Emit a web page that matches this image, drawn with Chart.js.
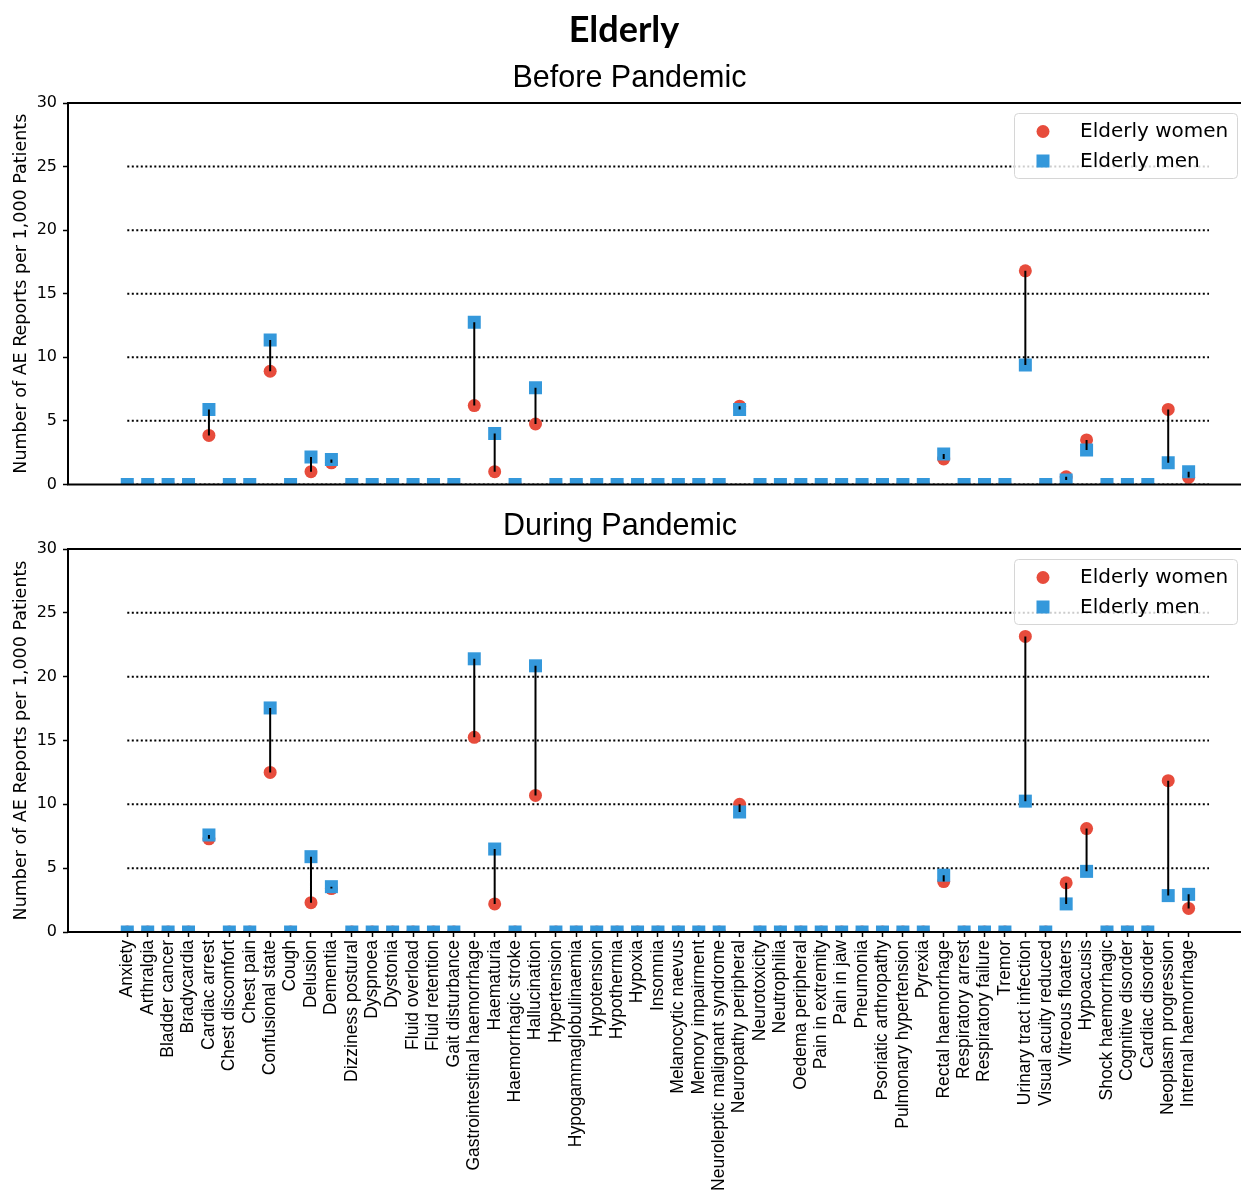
<!DOCTYPE html>
<html>
<head>
<meta charset="utf-8">
<script src="https://cdn.jsdelivr.net/npm/chart.js@4"></script>
<style>
  html, body { margin: 0; padding: 0; background: #ffffff; overflow: hidden; }
  #wrap { position: relative; width: 1241px; height: 1197px; }
  canvas { position: absolute; left: 0; }
  #c1 { top: 0; }
  #c2 { top: 500px; }
</style>
</head>
<body>
<div id="wrap">
  <canvas id="c1" width="1241" height="500"></canvas>
  <canvas id="c2" width="1241" height="697"></canvas>
</div>
<script>
// ---------------- DATA ----------------
const categories = [
  "Anxiety", "Arthralgia", "Bladder cancer", "Bradycardia", "Cardiac arrest",
  "Chest discomfort", "Chest pain", "Confusional state", "Cough", "Delusion",
  "Dementia", "Dizziness postural", "Dyspnoea", "Dystonia", "Fluid overload",
  "Fluid retention", "Gait disturbance", "Gastrointestinal haemorrhage", "Haematuria", "Haemorrhagic stroke",
  "Hallucination", "Hypertension", "Hypogammaglobulinaemia", "Hypotension", "Hypothermia",
  "Hypoxia", "Insomnia", "Melanocytic naevus", "Memory impairment", "Neuroleptic malignant syndrome",
  "Neuropathy peripheral", "Neurotoxicity", "Neutrophilia", "Oedema peripheral", "Pain in extremity",
  "Pain in jaw", "Pneumonia", "Psoriatic arthropathy", "Pulmonary hypertension", "Pyrexia",
  "Rectal haemorrhage", "Respiratory arrest", "Respiratory failure", "Tremor", "Urinary tract infection",
  "Visual acuity reduced", "Vitreous floaters", "Hypoacusis", "Shock haemorrhagic", "Cognitive disorder",
  "Cardiac disorder", "Neoplasm progression", "Internal haemorrhage"
];

const womenBefore = [
  0, 0, 0, 0, 3.85,
  0, 0, 8.9, 0, 1.0,
  1.7, 0, 0, 0, 0,
  0, 0, 6.2, 1.0, 0,
  4.75, 0, 0, 0, 0,
  0, 0, 0, 0, 0,
  6.15, 0, 0, 0, 0,
  0, 0, 0, 0, 0,
  2.0, 0, 0, 0, 16.8,
  0, 0.6, 3.5, 0, 0,
  0, 5.9, 0.55
];
const menBefore = [
  0, 0, 0, 0, 5.9,
  0, 0, 11.35, 0, 2.15,
  1.95, 0, 0, 0, 0,
  0, 0, 12.75, 4.0, 0,
  7.6, 0, 0, 0, 0,
  0, 0, 0, 0, 0,
  5.9, 0, 0, 0, 0,
  0, 0, 0, 0, 0,
  2.4, 0, 0, 0, 9.4,
  0, 0.35, 2.7, 0, 0,
  0, 1.7, 1.0
];
const womenDuring = [
  0, 0, 0, 0, 7.3,
  0, 0, 12.5, 0, 2.3,
  3.4, 0, 0, 0, 0,
  0, 0, 15.25, 2.2, 0,
  10.7, 0, 0, 0, 0,
  0, 0, 0, 0, 0,
  10.0, 0, 0, 0, 0,
  0, 0, 0, 0, 0,
  3.95, 0, 0, 0, 23.15,
  0, 3.85, 8.1, 0, 0,
  0, 11.85, 1.85
];
const menDuring = [
  0, 0, 0, 0, 7.6,
  0, 0, 17.55, 0, 5.9,
  3.55, 0, 0, 0, 0,
  0, 0, 21.4, 6.5, 0,
  20.85, 0, 0, 0, 0,
  0, 0, 0, 0, 0,
  9.4, 0, 0, 0, 0,
  0, 0, 0, 0, 0,
  4.45, 0, 0, 0, 10.25,
  0, 2.2, 4.75, 0, 0,
  0, 2.85, 2.95
];
const yTickValues = [0, 5, 10, 15, 20, 25, 30];
const seriesNames = ["Elderly women", "Elderly men"];
const figureTitle = "Elderly";
const panelTitles = ["Before Pandemic", "During Pandemic"];
const yAxisTitle = "Number of AE Reports per 1,000 Patients";

// ---------------- STYLE ----------------
const RED = "#E74C3C";
const BLUE = "#3498DB";
const X_MIN = -2.905, X_MAX = 54.566;

// ---------------- PLUGINS ----------------
const figPlugin = {
  id: "figExtras",
  afterDraw(chart, args, opts) {
    const ctx = chart.ctx;
    const a = chart.chartArea;
    ctx.save();
    // spines
    ctx.strokeStyle = "#000";
    ctx.lineWidth = 2;
    ctx.beginPath();
    ctx.moveTo(a.left, a.top); ctx.lineTo(a.right, a.top);
    ctx.moveTo(a.left, a.top - 1); ctx.lineTo(a.left, a.bottom + 1);
    ctx.moveTo(a.left, a.bottom); ctx.lineTo(a.right, a.bottom);
    ctx.stroke();
    // texts
    (opts.texts || []).forEach(t => {
      ctx.font = t.font;
      ctx.fillStyle = "#000";
      ctx.textAlign = "center";
      ctx.textBaseline = "alphabetic";
      ctx.fillText(t.text, t.x, t.y);
    });
    // legend
    const w = 223, h = 65;
    const lx = a.right - 4 - w, ly = a.top + 10;
    ctx.beginPath();
    if (ctx.roundRect) ctx.roundRect(lx + 0.5, ly + 0.5, w, h, 4); else ctx.rect(lx + 0.5, ly + 0.5, w, h);
    ctx.fillStyle = "rgba(255,255,255,0.8)";
    ctx.fill();
    ctx.strokeStyle = "#d6d6d6";
    ctx.lineWidth = 1;
    ctx.stroke();
    ctx.fillStyle = RED;
    ctx.beginPath();
    ctx.arc(lx + 29, ly + 18.5, 6.5, 0, Math.PI * 2);
    ctx.fill();
    ctx.fillStyle = BLUE;
    ctx.fillRect(lx + 29 - 6.5, ly + 48 - 6.5, 13, 13);
    ctx.fillStyle = "#000";
    ctx.font = '20px "DejaVu Sans"';
    ctx.textAlign = "left";
    ctx.fillText(seriesNames[0], lx + 66, ly + 24);
    ctx.fillText(seriesNames[1], lx + 66, ly + 54);
    ctx.restore();
  }
};

function buildDatasets(women, men) {
  const connectors = [];
  categories.forEach((c, i) => {
    connectors.push({ x: i, y: women[i] }, { x: i, y: men[i] }, { x: i, y: null });
  });
  const ds = [
    { label: "connect", data: connectors, showLine: true, spanGaps: false,
      borderColor: "#000", borderWidth: 2, pointRadius: 0, pointHoverRadius: 0, clip: 0 },
    { label: seriesNames[1], data: categories.map((c, i) => ({ x: i, y: men[i] })),
      pointStyle: "rect", pointRadius: 9.2, pointHoverRadius: 9.2,
      backgroundColor: BLUE, borderWidth: 0, showLine: false, clip: 0 },
    { label: seriesNames[0], data: categories.map((c, i) => ({ x: i, y: women[i] })),
      pointStyle: "circle", pointRadius: 6.5, pointHoverRadius: 6.5,
      backgroundColor: RED, borderWidth: 0, showLine: false, clip: 0 }
  ];
  yTickValues.forEach(v => {
    ds.push({ label: "grid" + v, data: [{ x: 0, y: v }, { x: categories.length, y: v }],
      showLine: true, borderColor: "#000", borderWidth: 2, borderDash: [2, 2.5],
      pointRadius: 0, pointHoverRadius: 0, clip: 0 });
  });
  return ds;
}

function yScale() {
  return {
    min: 0, max: 30,
    afterBuildTicks: s => { s.ticks = yTickValues.map(v => ({ value: v })); },
    afterFit: s => { s.width = 68; },
    border: { display: false },
    grid: { display: true, drawOnChartArea: false, drawTicks: true, tickLength: 5, tickColor: "#000", tickWidth: 1.5 },
    ticks: { color: "#000", font: { family: "DejaVu Sans", size: 16 }, padding: 6 },
    title: { display: true, text: yAxisTitle, color: "#000",
      font: { family: "DejaVu Sans", size: 17.5 }, padding: { top: 10.5, bottom: 0 } }
  };
}

function makeChart(id, women, men, showX, texts, padTop, padBottom) {
  return new Chart(document.getElementById(id), {
    type: "scatter",
    data: { datasets: buildDatasets(women, men) },
    options: {
      responsive: false,
      animation: false,
      devicePixelRatio: 1,
      events: [],
      layout: { autoPadding: false, padding: { top: padTop, bottom: padBottom, left: 0, right: 0 } },
      plugins: { legend: { display: false }, tooltip: { enabled: false }, figExtras: { texts } },
      scales: {
        x: {
          type: "linear", min: X_MIN, max: X_MAX, display: showX,
          afterBuildTicks: s => { s.ticks = categories.map((c, i) => ({ value: i })); },
          afterFit: s => { if (showX) s.height = 265; },
          border: { display: false },
          grid: { display: true, drawOnChartArea: false, drawTicks: true, tickLength: 5, tickColor: "#000", tickWidth: 1.5 },
          ticks: {
            autoSkip: false, minRotation: 90, maxRotation: 90, padding: 3, color: "#000",
            font: { family: "Liberation Sans", size: 17.5 },
            callback: v => categories[v]
          }
        },
        y: yScale()
      }
    },
    plugins: [figPlugin]
  });
}

makeChart("c1", womenBefore, menBefore, false, [
  { text: figureTitle, x: 624, y: 42, font: 'bold 36px Lato' },
  { text: panelTitles[0], x: 629.5, y: 87, font: '30.5px "Liberation Sans"' }
], 103, 13.5);

makeChart("c2", womenDuring, menDuring, true, [
  { text: panelTitles[1], x: 620, y: 35, font: '30.5px "Liberation Sans"' }
], 49, 0);
</script>
</body>
</html>
